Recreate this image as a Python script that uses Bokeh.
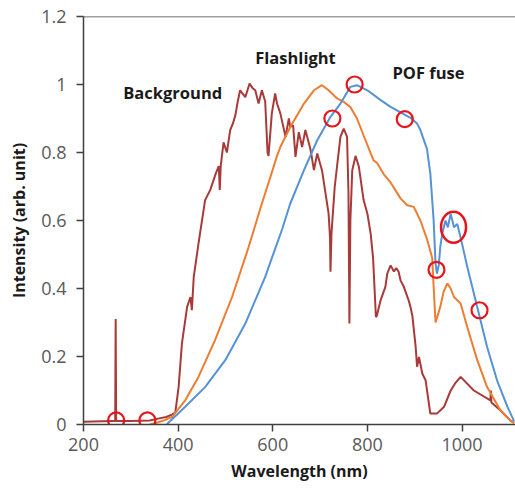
from bokeh.plotting import figure
from bokeh.models import Range1d, Span, FixedTicker
from bokeh.core.properties import value
from bokeh.embed import file_html
from bokeh.resources import INLINE

# ---- data ----
bg_nm = [200, 260, 267, 268, 269, 300, 340, 360, 375, 388, 394, 401, 408, 419, 426, 429, 433, 443,
         457, 468, 480, 486, 488, 490, 496, 503, 510, 516, 521, 526, 531, 542, 551, 557, 563,
         570, 577, 584, 589, 591, 598, 605, 609, 616, 627, 634, 637, 643, 648, 655, 662, 669, 680,
         687, 694, 704, 711, 718, 721, 722, 724, 731, 743, 750, 757, 760, 762, 764, 768, 775, 782,
         792, 800, 807, 812, 818, 820, 828, 838, 842, 849, 856, 861, 866, 870, 877, 887, 891, 895,
         902, 905, 909, 916, 923, 933, 947, 962, 976, 985, 997, 1025, 1060, 1061, 1062, 1081,
         1102, 1110]
bg_int = [0.008, 0.01, 0.01, 0.31, 0.01, 0.01, 0.012, 0.018, 0.022, 0.03, 0.035, 0.11, 0.238, 0.346,
          0.375, 0.336, 0.434, 0.532, 0.66, 0.69, 0.74, 0.76, 0.69, 0.76, 0.83, 0.80, 0.866,
          0.886, 0.91, 0.95, 0.983, 0.963, 1.003, 0.99, 0.983, 0.944, 0.983, 0.95, 0.80, 0.79,
          0.915, 0.974, 0.944, 0.915, 0.846, 0.90, 0.875, 0.88, 0.787, 0.86, 0.816, 0.866, 0.807,
          0.748, 0.797, 0.748, 0.684, 0.62, 0.55, 0.449, 0.56, 0.70, 0.846, 0.87, 0.846, 0.68,
          0.297, 0.60, 0.748, 0.79, 0.758, 0.66, 0.62, 0.56, 0.49, 0.316, 0.32, 0.366, 0.405,
          0.444, 0.468, 0.45, 0.46, 0.449, 0.424, 0.405, 0.366, 0.346, 0.32, 0.228, 0.17, 0.199,
          0.15, 0.13, 0.032, 0.032, 0.052, 0.10, 0.12, 0.14, 0.10, 0.071, 0.10, 0.065, 0.042,
          0.012, 0.005]

fl_nm = [340, 355, 370, 387, 415, 443, 478, 514, 549, 577, 595, 609, 616, 637, 666, 687, 704, 718,
         736, 750, 764, 778, 792, 813, 820, 835, 849, 870, 884, 898, 912, 926, 937, 940, 944,
         954, 961, 969, 976, 983, 997, 1011, 1032, 1053, 1081, 1102, 1110]
fl_int = [0.0, 0.005, 0.012, 0.022, 0.071, 0.14, 0.248, 0.375, 0.522, 0.65, 0.728, 0.79, 0.816,
          0.875, 0.944, 0.983, 0.998, 0.983, 0.959, 0.949, 0.934, 0.90, 0.85, 0.777, 0.77, 0.735,
          0.712, 0.665, 0.645, 0.64, 0.60, 0.545, 0.49, 0.405, 0.30, 0.346, 0.39, 0.415, 0.40,
          0.375, 0.356, 0.287, 0.19, 0.11, 0.042, 0.012, 0.005]

pof_nm = [376, 380, 415, 457, 500, 542, 584, 602, 620, 637, 666, 694, 722, 743, 764, 778, 800, 828,
          849, 870, 891, 905, 912, 926, 933, 940, 944, 947, 951, 954, 958, 965, 970, 976, 983, 990,
          1000, 1011, 1032, 1053, 1074, 1096, 1110]
pof_int = [0.0, 0.006, 0.052, 0.11, 0.19, 0.297, 0.434, 0.505, 0.575, 0.65, 0.748, 0.836, 0.905,
           0.944, 0.993, 0.998, 0.983, 0.954, 0.934, 0.918, 0.902, 0.885, 0.866, 0.81, 0.738, 0.60,
           0.473, 0.444, 0.47, 0.522, 0.56, 0.60, 0.58, 0.62, 0.58, 0.59, 0.532, 0.464, 0.346,
           0.228, 0.13, 0.052, 0.01]

circ_nm = [269, 335, 726, 773, 879, 946, 1037]
circ_int = [0.012, 0.012, 0.90, 1.0, 0.898, 0.455, 0.336]
ell_nm = [982]
ell_int = [0.58]

label_nm = [284, 563, 853]
label_int = [0.977, 1.08, 1.036]
label_txt = ["Background", "Flashlight", "POF fuse"]

x_ticks = [200, 400, 600, 800, 1000]
y_ticks = [0, 0.2, 0.4, 0.6, 0.8, 1.0, 1.2]
y_tick_labels = ["0", "0.2", "0.4", "0.6", "0.8", "1", "1.2"]

# ---- figure ----
p = figure(width=515, height=490, output_backend="svg", toolbar_location=None, title=None,
           x_range=Range1d(200, 1113), y_range=Range1d(0, 1.2),
           min_border_left=83, min_border_right=0, min_border_top=16, min_border_bottom=66)
p.outline_line_color = None
p.grid.visible = False
p.background_fill_color = "white"
p.border_fill_color = "white"

p.line(bg_nm, bg_int, line_color="#A93A3A", line_width=2)
p.line(fl_nm, fl_int, line_color="#ED7D31", line_width=2)
p.line(pof_nm, pof_int, line_color="#5592D6", line_width=2)

p.scatter(circ_nm, circ_int, marker="circle", size=16, fill_color=None,
          line_color="#E8141C", line_width=2.2)
p.ellipse(ell_nm, ell_int, width=25, height=31, width_units="screen", height_units="screen",
          fill_color=None, line_color="#E8141C", line_width=2.5)

p.text(label_nm, label_int, text=label_txt, text_font=value("Open Sans"),
       text_font_size="16.5px", text_font_style="bold", text_color="#1a1a1a",
       text_baseline="middle", text_align="left")

p.add_layout(Span(location=1.2, dimension="width", line_color="#404040", line_width=1.5))

for ax in (p.xaxis[0], p.yaxis[0]):
    ax.axis_line_color = "#404040"
    ax.axis_line_width = 1.5
    ax.major_tick_line_color = "#404040"
    ax.major_tick_line_width = 1.5
    ax.major_tick_in = 0
    ax.major_tick_out = 7
    ax.minor_tick_line_color = None
    ax.major_label_text_font = "Open Sans"
    ax.major_label_text_font_size = "18px"
    ax.major_label_text_color = "#595959"
    ax.axis_label_text_font = "Open Sans"
    ax.axis_label_text_font_size = "16px"
    ax.axis_label_text_font_style = "bold"
    ax.axis_label_text_color = "#1a1a1a"

p.xaxis.ticker = FixedTicker(ticks=x_ticks)
p.yaxis.ticker = FixedTicker(ticks=y_ticks)
p.yaxis.major_label_overrides = {t: s for t, s in zip(y_ticks, y_tick_labels)}
p.xaxis.axis_label = "Wavelength (nm)"
p.yaxis.axis_label = "Intensity (arb. unit)"
p.xaxis.major_label_standoff = 6
p.yaxis.major_label_standoff = 10
p.xaxis.axis_label_standoff = 6
p.yaxis.axis_label_standoff = 8

open("out.html", "w").write(file_html(p, INLINE))
